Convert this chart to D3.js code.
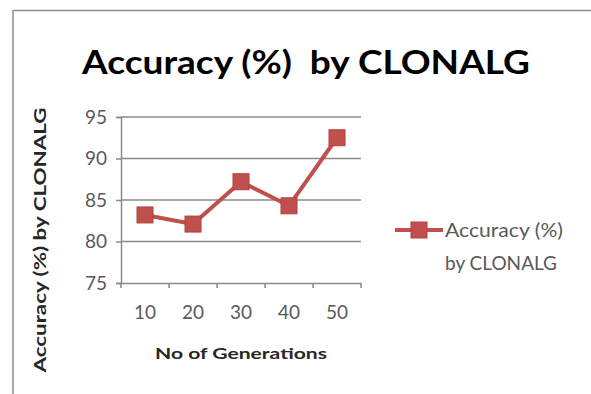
<!DOCTYPE html>
<html>
<head>
<meta charset="utf-8">
<script src="https://cdn.jsdelivr.net/npm/d3@7"></script>
<style>
  html, body { margin: 0; padding: 0; background: #fff; }
  svg { display: block; }
</style>
</head>
<body>
<svg id="chart" width="591" height="394"></svg>
<script>
// Accuracy of CLONALG per number of generations
const categories = ["10", "20", "30", "40", "50"];
const accuracy = [83.2, 82.1, 87.2, 84.3, 92.5];
const yTicks = [75, 80, 85, 90, 95];
const seriesName = ["Accuracy (%)", "by CLONALG"];
const titleText = "Accuracy (%)  by CLONALG";
const xTitle = "No of Generations";
const yTitle = "Accuracy (%) by CLONALG";

const FONT = "Lato, 'Open Sans', 'DejaVu Sans', sans-serif";
const RED = "#c0504d";
const GRID = "#8a8a8a";
const TEXT = "#595959";

const svg = d3.select("#chart");

// chart frame
svg.append("rect")
  .attr("x", 13).attr("y", 10.5)
  .attr("width", 600).attr("height", 400)
  .attr("fill", "#fff")
  .attr("stroke", "#8c8c8c").attr("stroke-width", 1.5);

const plot = { left: 121, right: 361, top: 117, bottom: 283 };

const x = d3.scaleBand().domain(categories).range([plot.left, plot.right]);
const y = d3.scaleLinear().domain([75, 95]).range([plot.bottom, plot.top]);

// horizontal gridlines
svg.append("g")
  .selectAll("line")
  .data(yTicks.slice(1))
  .join("line")
  .attr("x1", plot.left).attr("x2", plot.right)
  .attr("y1", d => y(d)).attr("y2", d => y(d))
  .attr("stroke", GRID).attr("stroke-width", 1.5);

// y axis
const yAxis = svg.append("g")
  .attr("transform", `translate(${plot.left},0)`)
  .call(d3.axisLeft(y).tickValues(yTicks).tickSize(5).tickPadding(9));
yAxis.select(".domain").attr("stroke", GRID).attr("stroke-width", 1.5);
yAxis.selectAll(".tick line").attr("stroke", GRID).attr("stroke-width", 1.5);
yAxis.selectAll(".tick text")
  .attr("fill", TEXT).style("font-family", FONT).style("font-size", "19px");

// x axis with ticks at category boundaries
const xAxis = svg.append("g")
  .attr("transform", `translate(0,${plot.bottom})`)
  .call(d3.axisBottom(x).tickSize(0).tickPadding(23));
xAxis.select(".domain").attr("stroke", GRID).attr("stroke-width", 1.5);
xAxis.selectAll(".tick text")
  .attr("fill", TEXT).style("font-family", FONT).style("font-size", "19px");
const bounds = categories.map(c => x(c)).concat([plot.right]);
xAxis.selectAll(".bound")
  .data(bounds)
  .join("line")
  .attr("class", "bound")
  .attr("x1", d => d).attr("x2", d => d)
  .attr("y1", 0).attr("y2", 5)
  .attr("stroke", GRID).attr("stroke-width", 1.5);

// series line
const cx = d => x(d.cat) + x.bandwidth() / 2;
const pts = categories.map((c, i) => ({ cat: c, v: accuracy[i] }));
svg.append("path")
  .datum(pts)
  .attr("d", d3.line().x(cx).y(d => y(d.v)))
  .attr("fill", "none")
  .attr("stroke", RED).attr("stroke-width", 4)
  .attr("stroke-linejoin", "round");

// square markers
const MS = 16;
svg.append("g")
  .selectAll("rect")
  .data(pts)
  .join("rect")
  .attr("x", d => cx(d) - MS / 2)
  .attr("y", d => y(d.v) - MS / 2)
  .attr("width", MS).attr("height", MS)
  .attr("fill", RED).attr("stroke", "#b3403d").attr("stroke-width", 1);

// chart title
svg.append("text")
  .attr("x", 306).attr("y", 74)
  .attr("text-anchor", "middle")
  .attr("textLength", 448).attr("lengthAdjust", "spacingAndGlyphs")
  .style("white-space", "pre")
  .style("font-family", FONT).style("font-weight", "bold").style("font-size", "33px")
  .attr("fill", "#000")
  .text(titleText);

// x axis title
svg.append("text")
  .attr("x", 241).attr("y", 359)
  .attr("text-anchor", "middle")
  .attr("textLength", 172).attr("lengthAdjust", "spacingAndGlyphs")
  .style("font-family", FONT).style("font-weight", "bold").style("font-size", "16px")
  .attr("fill", "#262626")
  .text(xTitle);

// y axis title
svg.append("text")
  .attr("transform", "translate(46,240) rotate(-90)")
  .attr("text-anchor", "middle")
  .attr("textLength", 265).attr("lengthAdjust", "spacingAndGlyphs")
  .style("font-family", FONT).style("font-weight", "bold").style("font-size", "17px")
  .attr("fill", "#262626")
  .text(yTitle);

// legend
const lg = svg.append("g").attr("transform", "translate(395,230)");
lg.append("line")
  .attr("x1", 0).attr("x2", 48).attr("y1", 0).attr("y2", 0)
  .attr("stroke", RED).attr("stroke-width", 4);
lg.append("rect")
  .attr("x", 24 - MS / 2).attr("y", -MS / 2)
  .attr("width", MS).attr("height", MS)
  .attr("fill", RED).attr("stroke", "#b3403d").attr("stroke-width", 1);
lg.selectAll("text.leg")
  .data(seriesName)
  .join("text")
  .attr("class", "leg")
  .attr("x", 50).attr("y", (d, i) => 7 + i * 33)
  .attr("textLength", (d, i) => i === 0 ? 118 : 112)
  .attr("lengthAdjust", "spacingAndGlyphs")
  .attr("fill", TEXT)
  .style("font-family", FONT).style("font-size", "20px")
  .text(d => d);
</script>
</body>
</html>
